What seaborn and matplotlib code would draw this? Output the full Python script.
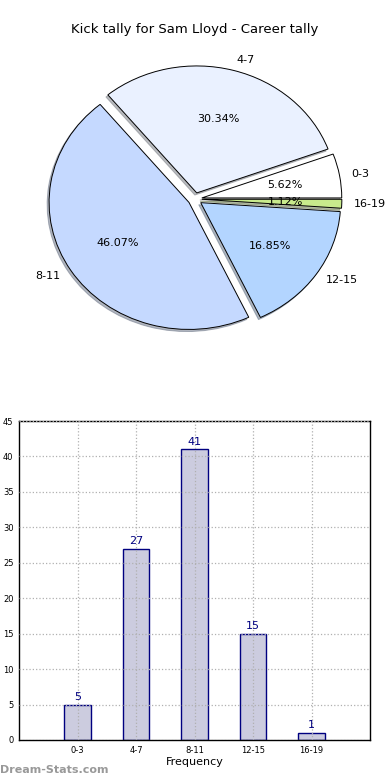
import matplotlib
matplotlib.use("Agg")
import matplotlib.pyplot as plt
import seaborn as sns

categories = ["0-3", "4-7", "8-11", "12-15", "16-19"]
counts = [5, 27, 41, 15, 1]
pie_colors = ["#ffffff", "#eaf1ff", "#c5d9ff", "#b3d5ff", "#c8ea8c"]

sns.set_style("white")
plt.rcParams["font.family"] = ["DejaVu Sans"]
plt.rcParams["text.color"] = "black"
plt.rcParams["axes.labelcolor"] = "black"
plt.rcParams["xtick.color"] = "black"
plt.rcParams["ytick.color"] = "black"

fig = plt.figure(figsize=(3.9, 7.8), dpi=100)

# pie (old-style, not forced circular)
ax1 = fig.add_axes([0.0513, 0.5413, 0.897, 0.407])
wedges, texts, autotexts = ax1.pie(
    counts, labels=categories, colors=pie_colors, explode=[0.05] * 5,
    autopct="%.2f%%", shadow={"ox": -0.01, "oy": -0.012, "shade": 0.5},
    startangle=0, labeldistance=1.085,
    wedgeprops={"edgecolor": "black", "linewidth": 0.7},
    textprops={"fontsize": 8, "color": "black"},
)
ax1.set_aspect("auto")
ax1.set_xlim(-1.25, 1.25)
ax1.set_ylim(-1.25, 1.25)
fig.text(0.5, 0.962, "Kick tally for Sam Lloyd - Career tally", ha="center",
         va="center", fontsize=9.5, color="black")

# bar chart
ax2 = fig.add_axes([0.049, 0.0513, 0.9, 0.4089])
sns.barplot(x=categories, y=counts, ax=ax2, color="#ccccdf", saturation=1,
            edgecolor="#000080", linewidth=1, width=0.45)
ax2.bar_label(ax2.containers[0], color="#000080", fontsize=8, padding=2)
ax2.set_xlim(-1, 5)
ax2.set_ylim(0, 45)
ax2.set_yticks(range(0, 46, 5))
ax2.set_axisbelow(False)
ax2.grid(True, linestyle=":", color="#b0b0b0", linewidth=0.9)
ax2.tick_params(labelsize=6, length=0, pad=4)
ax2.set_xlabel("Frequency", fontsize=8, labelpad=2)
ax2.set_ylabel("")
for s in ax2.spines.values():
    s.set_visible(True)
    s.set_color("black")
    s.set_linewidth(1)

fig.text(0.0, 0.006, "Dream-Stats.com", fontsize=8, color="#999999",
         fontweight="bold", ha="left", va="bottom")

fig.savefig("out.png", dpi=100)
